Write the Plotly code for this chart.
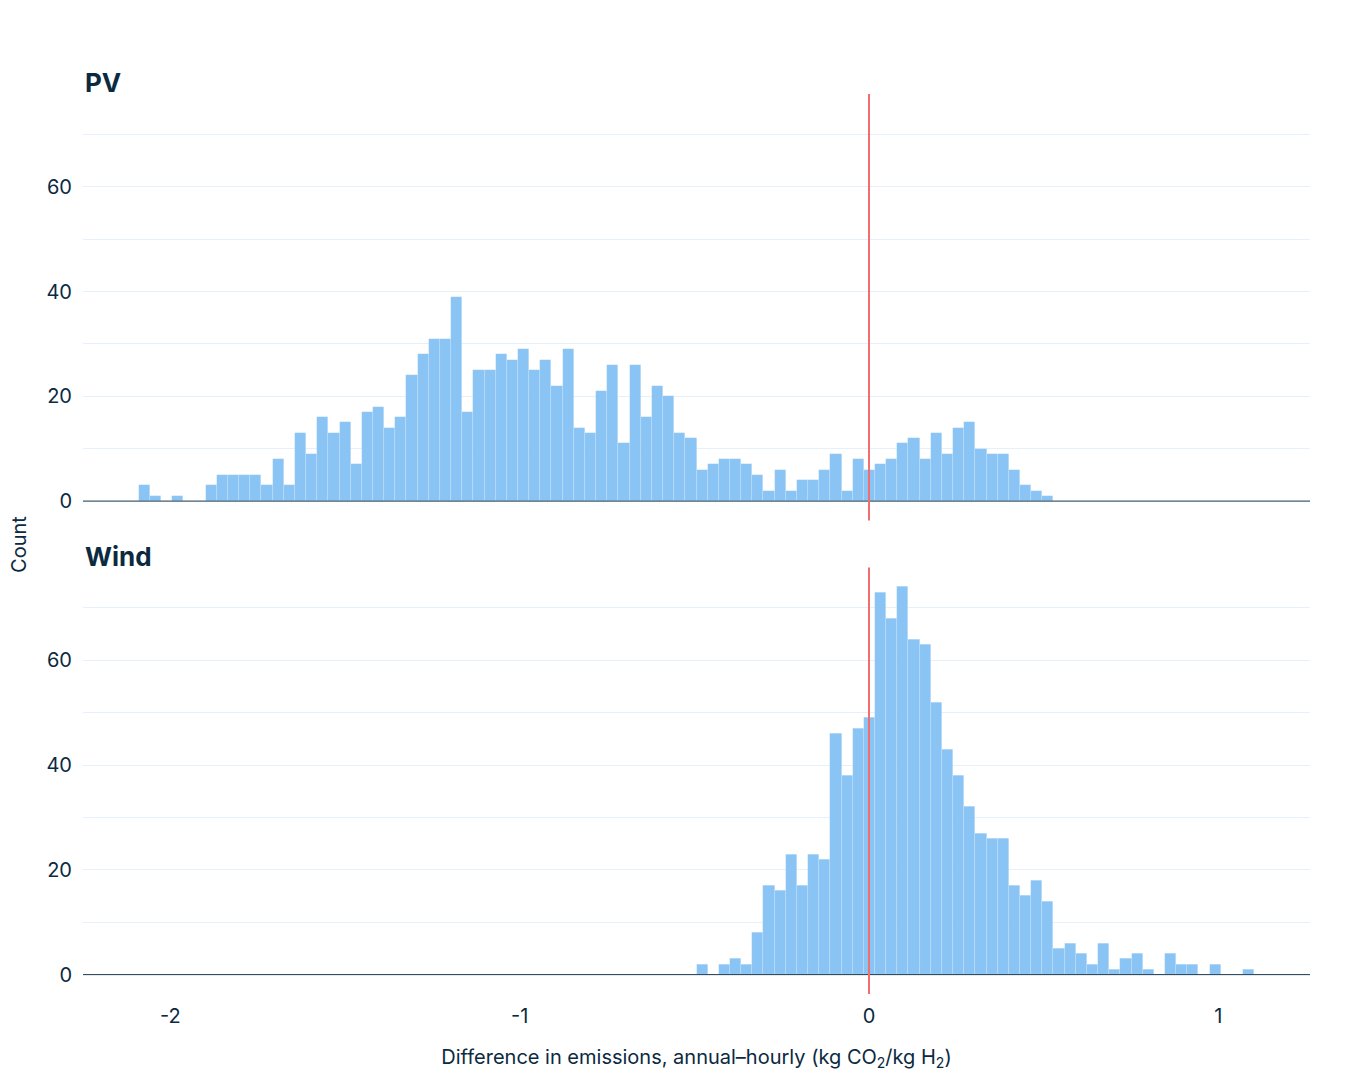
import numpy as np
import plotly.graph_objects as go
from plotly.subplots import make_subplots

# Histogram bin definition (100 equal bins)
bin_start = -2.0906
bin_end = 1.1029
n_bins = 100

pv_counts = [3, 1, 0, 1, 0, 0, 3, 5, 5, 5,
             5, 3, 8, 3, 13, 9, 16, 13, 15, 7,
             17, 18, 14, 16, 24, 28, 31, 31, 39, 17,
             25, 25, 28, 27, 29, 25, 27, 22, 29, 14,
             13, 21, 26, 11, 26, 16, 22, 20, 13, 12,
             6, 7, 8, 8, 7, 5, 2, 6, 2, 4,
             4, 6, 9, 2, 8, 6, 7, 8, 11, 12,
             8, 13, 9, 14, 15, 10, 9, 9, 6, 3,
             2, 1, 0, 0, 0, 0, 0, 0, 0, 0,
             0, 0, 0, 0, 0, 0, 0, 0, 0, 0]

wind_counts = [0] * 50 + [2, 0, 2, 3, 2, 8, 17, 16, 23, 17,
                          23, 22, 46, 38, 47, 49, 73, 68, 74, 64,
                          63, 52, 43, 38, 32, 27, 26, 26, 17, 15,
                          18, 14, 5, 6, 4, 2, 6, 1, 3, 4,
                          1, 0, 4, 2, 2, 0, 2, 0, 0, 1]

panel_titles = ["PV", "Wind"]
x_tick_vals = [-2, -1, 0, 1]
x_tick_text = ["-2", "-1", "0", "1"]
y_tick_vals = [0, 20, 40, 60]

bin_width = (bin_end - bin_start) / n_bins
centers = bin_start + (np.arange(n_bins) + 0.5) * bin_width

TEXT = "#0b2a3f"
BAR = "#89c4f4"
GRID = "#e6f0fa"
RED = "#f26d6d"
FONT = "Inter, Roboto, sans-serif"

fig = make_subplots(rows=2, cols=1, shared_xaxes=True, vertical_spacing=0.0523)

for i, counts in enumerate([pv_counts, wind_counts]):
    fig.add_trace(go.Bar(
        x=centers, y=counts, width=bin_width,
        marker=dict(color=BAR, line=dict(color="rgba(255,255,255,0.25)", width=0.6)),
        showlegend=False, hoverinfo="x+y"),
        row=i + 1, col=1)

xrange = [bin_start - 0.05 * (bin_end - bin_start), bin_end + 0.05 * (bin_end - bin_start)]
ymax = max(max(pv_counts), max(wind_counts))
yrange = [-0.05 * ymax, 1.05 * ymax]

fig.update_xaxes(range=xrange, showgrid=False, zeroline=False, showline=False,
                 tickvals=x_tick_vals, ticktext=x_tick_text, ticks="",
                 tickfont=dict(size=20, color=TEXT, family=FONT))
fig.update_xaxes(ticklabelstandoff=8, row=2, col=1)
fig.update_xaxes(title=dict(
    text="Difference in emissions, annual–hourly (kg CO<sub>2</sub>/kg H<sub>2</sub>)",
    font=dict(size=20, color=TEXT, family=FONT), standoff=22), row=2, col=1)

fig.update_yaxes(range=yrange, tickvals=y_tick_vals, showgrid=True, gridcolor=GRID,
                 gridwidth=1, zeroline=False, showline=False, ticks="",
                 ticklabelstandoff=10,
                 minor=dict(dtick=10, tick0=0, showgrid=True, gridcolor=GRID, gridwidth=1),
                 tickfont=dict(size=20, color=TEXT, family=FONT))

# page body adds an 8px offset, so the figure is sized to compensate
fig.update_layout(
    width=1355, height=1072,
    margin=dict(l=75, r=53, t=86, b=86, autoexpand=False),
    plot_bgcolor="white", paper_bgcolor="white",
    bargap=0, font=dict(family=FONT, color=TEXT),
)

# baseline and red reference lines
for i, (xa, ya) in enumerate([("x", "y"), ("x2", "y2")]):
    fig.add_shape(type="line", xref=f"{xa} domain", yref=ya, x0=0, x1=1, y0=0, y1=0,
                  line=dict(color="#1d3a4e", width=1), layer="above")
    fig.add_shape(type="line", xref=xa, yref=f"{ya} domain", x0=0, x1=0, y0=0, y1=1,
                  line=dict(color=RED, width=2), layer="above")
    fig.add_annotation(text=f"<b>{panel_titles[i]}</b>", xref=f"{xa} domain",
                       yref=f"{ya} domain", x=0, y=1, xanchor="left", yanchor="bottom",
                       yshift=-6, showarrow=False,
                       font=dict(size=26, color=TEXT, family=FONT))

fig.add_annotation(text="Count", xref="paper", yref="paper", x=-0.0522, y=0.5,
                   xanchor="center", yanchor="middle", textangle=-90, showarrow=False,
                   font=dict(size=20, color=TEXT, family=FONT))

fig.write_html("out.html")
